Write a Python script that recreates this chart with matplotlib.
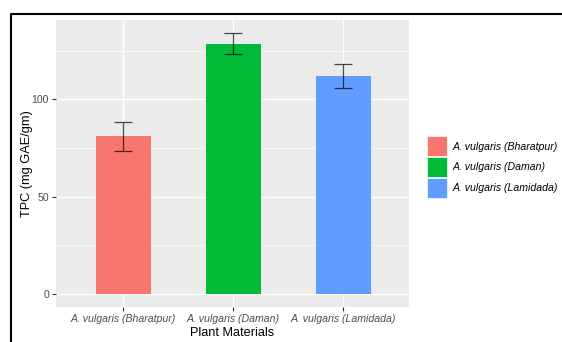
import matplotlib
matplotlib.use('Agg')
import matplotlib.pyplot as plt
from matplotlib.patches import Patch
from matplotlib.lines import Line2D
import numpy as np

plt.rcParams['font.family'] = ['Liberation Sans', 'DejaVu Sans']

materials = ['A. vulgaris (Bharatpur)', 'A. vulgaris (Daman)', 'A. vulgaris (Lamidada)']
tpc_mean = [80.9, 128.6, 111.9]
tpc_sd = [7.6, 5.2, 6.2]
bar_colors = ['#F8766D', '#00BA38', '#619CFF']
y_ticks = [0, 50, 100]
y_minor = [25, 75, 125]

W, H = 562, 342
fig = plt.figure(figsize=(W / 100, H / 100), dpi=100)
ax = fig.add_axes([56 / W, (H - 307) / H, 353 / W, 287 / H])

x = np.arange(len(materials))
ax.set_facecolor('#EBEBEB')
for s in ax.spines.values():
    s.set_visible(False)

# ggplot-style grid
for v in y_minor:
    ax.axhline(v, color='white', lw=0.5, zorder=0)
for v in y_ticks:
    ax.axhline(v, color='white', lw=1.0, zorder=0)
for xi in x:
    ax.axvline(xi, color='white', lw=1.0, zorder=0)

ax.bar(x, tpc_mean, width=0.5, color=bar_colors, zorder=2)
ax.errorbar(x, tpc_mean, yerr=tpc_sd, fmt='none', ecolor='black', alpha=0.7,
            elinewidth=0.9, capsize=6.2, capthick=0.9, zorder=3)

ax.set_xlim(-0.61, 2.6)
ax.set_ylim(-6.7, 140.7)
ax.set_xticks(x)
ax.set_xticklabels(materials, style='italic')
ax.set_yticks(y_ticks)
ax.tick_params(axis='both', colors='#333333', labelcolor='#4D4D4D', labelsize=7.6,
               length=3, width=0.8, pad=2)

ax.set_xlabel('Plant Materials', fontsize=9.2, color='black', labelpad=2.5)
ax.set_ylabel('TPC (mg GAE/gm)', fontsize=9.2, color='black', labelpad=-1)

handles = [Patch(facecolor=c, edgecolor='white', linewidth=0.5) for c in bar_colors]
leg = fig.legend(handles, materials, loc='center left',
                 bbox_to_anchor=(427 / W, (H - 167) / H), frameon=False,
                 fontsize=7.6, handlelength=1.9, handleheight=2.55,
                 handletextpad=0.55, labelspacing=0.05, borderpad=0,
                 borderaxespad=0)
for t in leg.get_texts():
    t.set_style('italic')

# outer frame
fig.add_artist(Line2D([10.5 / W, 10.5 / W, 1.0], [0.0, (H - 13.5) / H, (H - 13.5) / H],
                      transform=fig.transFigure, color='black', lw=1.5))

fig.savefig('out.png', dpi=100)
